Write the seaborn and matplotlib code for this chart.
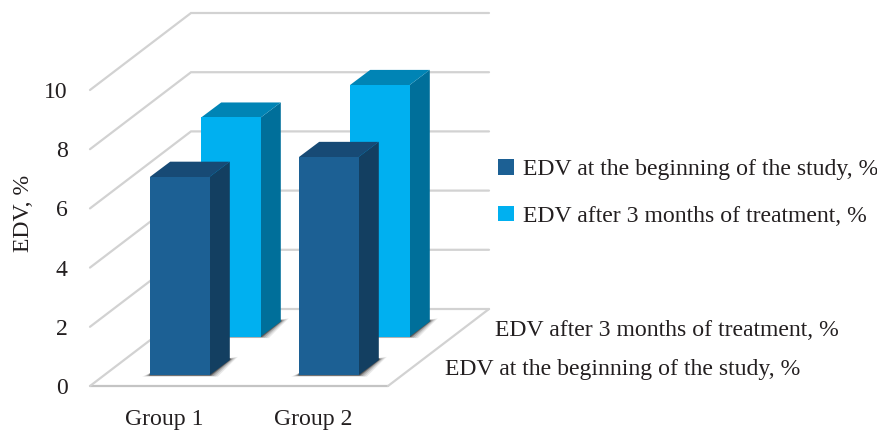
import matplotlib
matplotlib.use("Agg")
import matplotlib.pyplot as plt
import seaborn as sns
from matplotlib.patches import Polygon
from matplotlib.transforms import Affine2D, IdentityTransform

groups = ["Group 1", "Group 2"]
series_names = ["EDV at the beginning of the study, %", "EDV after 3 months of treatment, %"]
edv_start = [6.7, 7.37]
edv_after = [7.4, 8.5]
y_ticks = [0, 2, 4, 6, 8, 10]

text_col = "#231f20"
grid_col = "#d2d2d2"
# face, side, top
start_cols = ["#1c6094", "#133f61", "#174a75"]
after_cols = ["#00b0f0", "#006f9a", "#0084b5"]

# depth of the 3d box in pixels
WALL_DX, WALL_DY = 101, 77
BAR_DX, BAR_DY = 20, 15
FRONT_OFF = (15.5, 11)
BACK_OFF = (66.5, 49.5)
FS = 17.15

sns.set_style("white")
plt.rcParams["font.family"] = ["Liberation Serif", "DejaVu Serif"]

fig = plt.figure(figsize=(8.78, 4.30), dpi=100)
ax = fig.add_axes([90 / 878, (430 - 386) / 430, 298 / 878, 296 / 430])
ax.patch.set_alpha(0)


def poly(pts, color, z, alpha=1.0, lw=0.0):
    ax.add_patch(Polygon(pts, closed=True, facecolor=color, edgecolor=color, lw=lw, alpha=alpha,
                         transform=IdentityTransform(), clip_on=False, zorder=z))


def depth_bars(container, cols, off, z):
    for p in container:
        p.set_transform(ax.transData + Affine2D().translate(off[0], off[1]))
        p.set_clip_on(False)
        p.set_zorder(z + 0.2)
        p.set_linewidth(0)
        x0, x1 = p.get_x(), p.get_x() + p.get_width()
        h = p.get_height()
        (ax0, ay0), (ax1, ay1) = ax.transData.transform([(x0, 0), (x1, h)])
        ax0, ax1 = ax0 + off[0], ax1 + off[0]
        ay0, ay1 = ay0 + off[1], ay1 + off[1]
        # soft shadow on the floor
        for grow, a in [(8, 0.10), (6, 0.14), (4, 0.22), (2, 0.35), (0.8, 0.5)]:
            poly([(ax0 - grow, ay0 - 0.4 - grow * 0.15), (ax1 + grow, ay0 - 0.4 - grow * 0.15),
                  (ax1 + BAR_DX + grow, ay0 + BAR_DY + grow * 0.4), (ax1 + BAR_DX, ay0 + BAR_DY + 2),
                  (ax1, ay0 + 2), (ax0, ay0 + 2)],
                 "#2e2e2e", z, alpha=a)
        poly([(ax1 - 1, ay0), (ax1, ay0), (ax1 + BAR_DX, ay0 + BAR_DY), (ax1 + BAR_DX, ay1 + BAR_DY),
              (ax1, ay1), (ax1 - 1, ay1)], cols[1], z + 0.1)
        poly([(ax0, ay1 - 1), (ax1, ay1 - 1), (ax1, ay1), (ax1 + BAR_DX, ay1 + BAR_DY),
              (ax0 + BAR_DX, ay1 + BAR_DY), (ax0, ay1)], cols[2], z + 0.1)


sns.barplot(x=groups, y=edv_start, color=start_cols[0], saturation=1, width=0.4,
            ax=ax, label=series_names[0])
sns.barplot(x=groups, y=edv_after, color=after_cols[0], saturation=1, width=0.4,
            ax=ax, label=series_names[1])
ax.set_xlim(-0.5, 1.5)
ax.set_ylim(0, 10)
ax.set_yticks(y_ticks)
ax.set_yticklabels([str(t) for t in y_ticks])
sns.despine(ax=ax, left=True, bottom=True)
ax.tick_params(axis="both", length=0, labelsize=FS, labelcolor=text_col)
ax.tick_params(axis="y", pad=16)
ax.tick_params(axis="x", pad=16.5)
ax.set_ylabel("EDV, %", fontsize=FS, color=text_col, labelpad=7, y=0.584)
ax.set_xlabel("")
for lab in ax.get_xticklabels():
    lab.set_x(lab.get_position()[0])

# walls and floor
for t in y_ticks:
    (lx, ly), (rx, _) = ax.transData.transform([(-0.5, t), (1.5, t)])
    if t == 0:
        ax.plot([lx, rx], [ly, ly], color="#c4c4c4", lw=1.6, transform=IdentityTransform(),
                clip_on=False, zorder=1)
        ax.plot([rx, rx + WALL_DX], [ly, ly + WALL_DY], color=grid_col, lw=1.6,
                transform=IdentityTransform(), clip_on=False, zorder=1)
    ax.plot([lx, lx + WALL_DX, rx + WALL_DX], [ly, ly + WALL_DY, ly + WALL_DY], color=grid_col, lw=1.6,
            transform=IdentityTransform(), clip_on=False, zorder=1, solid_joinstyle="miter")

depth_bars(ax.containers[1], after_cols, BACK_OFF, 2)
depth_bars(ax.containers[0], start_cols, FRONT_OFF, 3)

handles = [ax.containers[0], ax.containers[1]]
ax.legend(handles, series_names, loc="center left", bbox_to_anchor=(498.5 / 878, 1 - 193 / 430),
          bbox_transform=fig.transFigure, frameon=False, fontsize=FS, labelcolor=text_col,
          handlelength=0.63, handleheight=0.63, handletextpad=0.38, labelspacing=1.06,
          borderpad=0, borderaxespad=0)

fig.text(495 / 878, 1 - 331 / 430, series_names[1], fontsize=FS, color=text_col, va="center")
fig.text(445 / 878, 1 - 369 / 430, series_names[0], fontsize=FS, color=text_col, va="center")

fig.savefig("out.png", dpi=100)
